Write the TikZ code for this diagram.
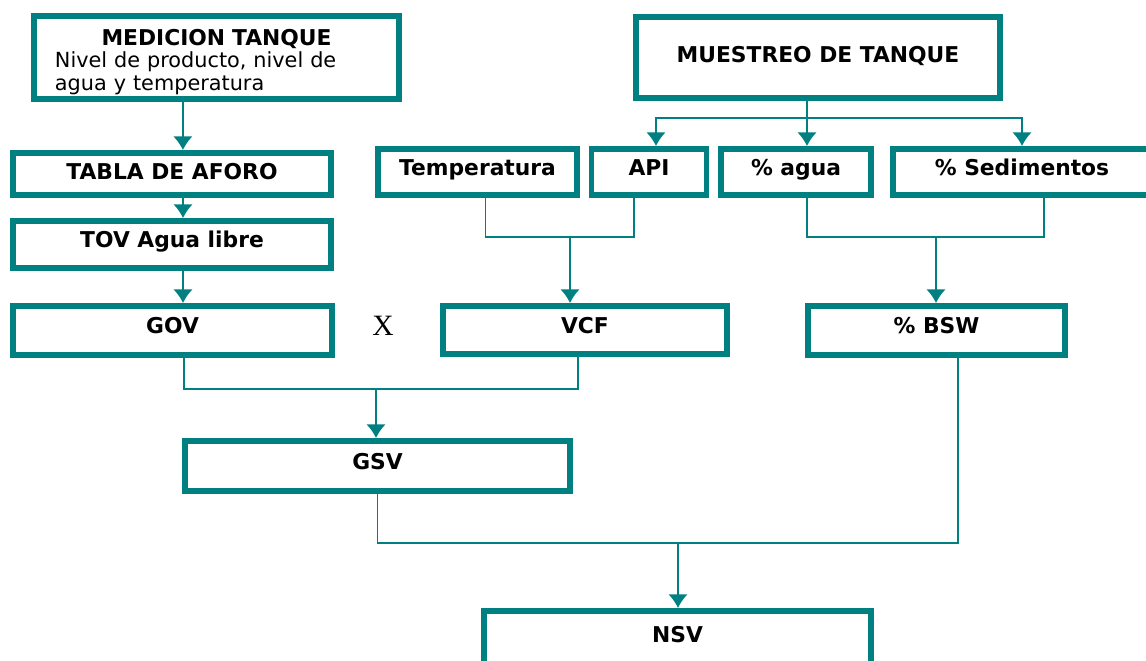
\documentclass[tikz,border=0pt]{standalone}
\usepackage{fontspec}
\setmainfont{DejaVu Sans}
\newfontfamily\xfont{Liberation Serif}
\usepackage{xcolor}
\usepackage{tikz}
\usetikzlibrary{arrows.meta}
\definecolor{verdeazul}{RGB}{0,128,128}

\begin{document}
\begin{tikzpicture}[x=0.025cm,y=-0.025cm]
\tikzset{>={Latex[width=4.8mm,length=3.4mm]}}
\tikzstyle{caja}=[draw=verdeazul,line width=4.2pt,rectangle,inner sep=2pt,
  font=\bfseries\fontsize{15.5}{18}\selectfont,text height=0.73em,text depth=0.25em]
\tikzstyle{linea}=[draw=verdeazul,line width=1.1pt]
\tikzstyle{flecha}=[linea,->,color=verdeazul]

\useasboundingbox (0,0) rectangle (1146,661);
\clip (0,0) rectangle (1146,661);

% cajas de arriba
\node[caja,minimum width=9.125cm,minimum height=2.075cm,text width=8.075cm,align=left,
  font=\fontsize{14.8}{16}\selectfont,text height=,text depth=](med) at (216.5,57.5)
  {\rule{0pt}{0.62cm}\makebox[8.075cm]{\bfseries\fontsize{15.5}{16}\selectfont MEDICION TANQUE}\\Nivel de producto, nivel de\\agua y temperatura};
\node[caja,minimum width=9.1cm,minimum height=2.025cm,text depth=0pt](mues) at (818,57.5){MUESTREO DE TANQUE};

\node[caja,minimum width=7.95cm,minimum height=1.05cm,text depth=0pt](tabla) at (172,174){TABLA DE AFORO};
\node[caja,minimum width=7.95cm,minimum height=1.175cm](tov) at (172,244.5){TOV Agua libre};

\node[caja,minimum width=4.975cm,minimum height=1.15cm](temp) at (477.5,172){Temperatura};
\node[caja,minimum width=2.875cm,minimum height=1.15cm](api) at (649,172){API};
\node[caja,minimum width=3.75cm,minimum height=1.15cm](agua) at (796,172){\% agua};
\node[caja,minimum width=6.45cm,minimum height=1.15cm](sed) at (1022,172){\% Sedimentos};

% calculos
\node[caja,minimum width=7.975cm,minimum height=1.225cm](gov) at (172.5,330.5){GOV};
\node[font=\xfont\fontsize{21}{24}\selectfont](por) at (383,326){X};
\node[caja,minimum width=7.1cm,minimum height=1.2cm](vcf) at (585,330){VCF};
\node[caja,minimum width=6.425cm,minimum height=1.225cm](bsw) at (936.5,330.5){\% BSW};
\node[caja,minimum width=9.625cm,minimum height=1.25cm](gsv) at (377.5,466){GSV};
\node[caja,minimum width=9.675cm,anchor=north,inner sep=0pt,text height=0.79cm,
  text depth=1.2cm](nsv) at (677.5,608){NSV};

% uniones
\coordinate (bus) at (807,118);
\coordinate (j1) at (570,237);
\coordinate (j2) at (936,237);
\coordinate (j3) at (376,389);
\coordinate (j4) at (678,543);

\draw[flecha] ([xshift=-0.84cm]med.south) -- ([xshift=-0.84cm]med.south |- tabla.north);
\draw[flecha] ([xshift=0.275cm]tabla.south) -- ([xshift=0.275cm]tov.north);
\draw[flecha] ([xshift=0.275cm]tov.south) -- ([xshift=0.275cm]tov.south |- gov.north);

\draw[linea] (mues.south -| bus) -- (bus);
\draw[flecha] (bus) -| ([xshift=0.175cm]api.north);
\draw[flecha] (bus) -- (bus |- agua.north);
\draw[flecha] (bus) -| (sed.north);

\draw[linea] ([xshift=0.2cm]temp.south) |- (j1) -| ([xshift=-0.375cm]api.south);
\draw[flecha] (j1) -- (j1 |- vcf.north);
\draw[linea] ([xshift=0.275cm]agua.south) |- (j2) -| ([xshift=0.55cm]sed.south);
\draw[flecha] (j2) -- (j2 |- bsw.north);

\draw[linea] ([xshift=0.29cm]gov.south) |- (j3) -| ([xshift=-0.175cm]vcf.south);
\draw[flecha] (j3) -- (j3 |- gsv.north);
\draw[linea] (gsv.south) |- (j4) -| ([xshift=0.54cm]bsw.south);
\draw[flecha] (j4) -- (j4 |- nsv.north);
\end{tikzpicture}
\end{document}
